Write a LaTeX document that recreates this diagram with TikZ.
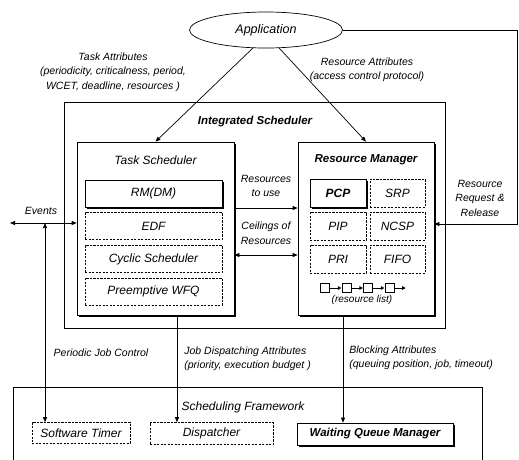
\documentclass[tikz,border=0pt]{standalone}
\usepackage{fontspec}
\setmainfont{Liberation Sans}
\usetikzlibrary{arrows.meta,shapes.geometric,shadows}

\tikzset{
  arr/.style={-{Triangle[length=5pt,width=4pt]}},
  arrs/.style={{Triangle[length=5pt,width=4pt]}-{Triangle[length=5pt,width=4pt]}},
  tip/.style={-{Triangle[length=3.5pt,width=3.5pt]}, shorten >=0.3pt},
  note/.style={font=\itshape\fontsize{10.5}{14.5}\selectfont, align=center, inner sep=0pt},
  boxtitle/.style={font=\itshape\fontsize{12}{14}\selectfont, inner sep=0pt},
  framebox/.style={draw, inner sep=0pt, line width=0.7pt},
  shadowbox/.style={draw, fill=white, inner sep=0pt, line width=0.7pt,
    font=\itshape\fontsize{12}{14}\selectfont,
    drop shadow={shadow xshift=1.8pt, shadow yshift=-1.8pt, fill=black, opacity=1}},
  dashbox/.style={draw, dash pattern=on 2.2pt off 1.3pt, inner sep=0pt, line width=0.6pt,
    font=\itshape\fontsize{12}{14}\selectfont},
  listbox/.style={draw, inner sep=0pt, minimum size=9pt, line width=0.6pt},
}

\begin{document}
\begin{tikzpicture}[x=1pt, y=-1pt, line width=0.7pt]
\useasboundingbox (0,0) rectangle (519,459);

\node[draw, ellipse, inner sep=0pt, minimum width=153pt, minimum height=36pt,
  font=\itshape\fontsize{12.5}{14}\selectfont] (app) at (266,30) {Application};

\node[framebox, minimum width=381pt, minimum height=226pt] (intsched) at (254.5,215) {};
\node[boxtitle, font=\bfseries\itshape\fontsize{11.5}{14}\selectfont] (intname) at (255,122) {Integrated Scheduler};

\node[shadowbox, minimum width=157pt, minimum height=173pt] (tasksched) at (155.5,228.5) {};
\node[boxtitle] (taskname) at (155.5,160) {Task Scheduler};
\node[shadowbox, minimum width=137pt, minimum height=27pt] (rm) at (153.5,193.5) {RM(DM)};
\node[dashbox, minimum width=137pt, minimum height=27pt] (edf) at (153.5,226) {EDF};
\node[dashbox, minimum width=137pt, minimum height=27pt] (cyclic) at (153.5,259) {Cyclic Scheduler};
\node[dashbox, minimum width=137pt, minimum height=27pt] (wfq) at (153.5,291.5) {Preemptive WFQ};

\node[shadowbox, minimum width=136pt, minimum height=173pt] (resmgr) at (366,228.5) {};
\node[boxtitle, font=\bfseries\itshape\fontsize{11.5}{14}\selectfont] (resname) at (366,160) {Resource Manager};
\node[shadowbox, minimum width=56pt, minimum height=28pt, font=\bfseries\itshape\fontsize{12}{14}\selectfont] (pcp) at (338,193) {PCP};
\node[dashbox, minimum width=55pt, minimum height=28pt] (srp) at (397.5,193) {SRP};
\node[dashbox, minimum width=56pt, minimum height=28pt] (pip) at (338,226) {PIP};
\node[dashbox, minimum width=55pt, minimum height=28pt] (ncsp) at (397.5,226) {NCSP};
\node[dashbox, minimum width=56pt, minimum height=28pt] (pri) at (338,259) {PRI};
\node[dashbox, minimum width=55pt, minimum height=28pt] (fifo) at (397.5,259) {FIFO};

\foreach \i in {0,...,3}
  \node[listbox] (sq\i) at (325+21.5*\i,288) {};
\coordinate (listend) at (406,288);
\foreach \a/\b in {sq0/sq1, sq1/sq2, sq2/sq3, sq3/listend}
  \draw[tip] (\a) -- (\b);
\node[note, font=\itshape\fontsize{10}{12}\selectfont] (listname) at (362,300) {(resource list)};

\draw (13,465) |- (482,387) -- (482,465);
\node[boxtitle] (framename) at (243,407) {Scheduling Framework};
\node[dashbox, minimum width=98pt, minimum height=21pt] (timer) at (81,433) {Software Timer};
\node[dashbox, minimum width=123pt, minimum height=22pt] (dispatcher) at (211.5,433.5) {Dispatcher};
\node[shadowbox, minimum width=156pt, minimum height=22pt, font=\bfseries\itshape\fontsize{11.5}{14}\selectfont] (wqm) at (375,434) {Waiting Queue Manager};

\draw[arr] (app.234) -- (tasksched.north);
\draw[arr] (app.306) -- (resmgr.north);
\node[note] (taskattr) at (113,72) {Task Attributes\\(periodicity, criticalness, period,\\WCET, deadline, resources )};
\node[note] (resattr) at (367,70) {Resource Attributes\\(access control protocol)};

\coordinate (reqin) at (517,224);
\draw[arr] (app.east) -| (reqin) -- (reqin -| resmgr.east);
\node[note] (reqname) at (480,198) {Resource\\Request \&\\Release};

\coordinate (useline) at (0,208);
\coordinate (ceilline) at (0,255);
\draw[arr] (tasksched.east |- useline) -- (resmgr.west |- useline);
\draw[arrs] (tasksched.east |- ceilline) -- (resmgr.west |- ceilline);
\node[note] (usename) at (266,186) {Resources\\to use};
\node[note] (ceilname) at (266,233) {Ceilings of\\Resources};

\coordinate (evleft) at (10,223);
\coordinate (evjoin) at (45,223);
\draw[arrs] (evleft) -- (evleft -| tasksched.west);
\draw[arrs] (evjoin) -- (evjoin |- timer.north);
\node[note] (evname) at (41,211) {Events};
\node[note] (periodname) at (101,353) {Periodic Job Control};

\coordinate (jobx) at (177,0);
\draw[arr] (tasksched.south -| jobx) -- (jobx |- dispatcher.north);
\node[note, anchor=west, align=left] (jobname) at (184,359) {Job Dispatching Attributes\\(priority, execution budget )};

\coordinate (blockx) at (343,0);
\draw[arr] (resmgr.south -| blockx) -- (blockx |- wqm.north);
\node[note, anchor=west, align=left] (blockname) at (349,358) {Blocking Attributes\\(queuing position, job, timeout)};
\end{tikzpicture}
\end{document}
